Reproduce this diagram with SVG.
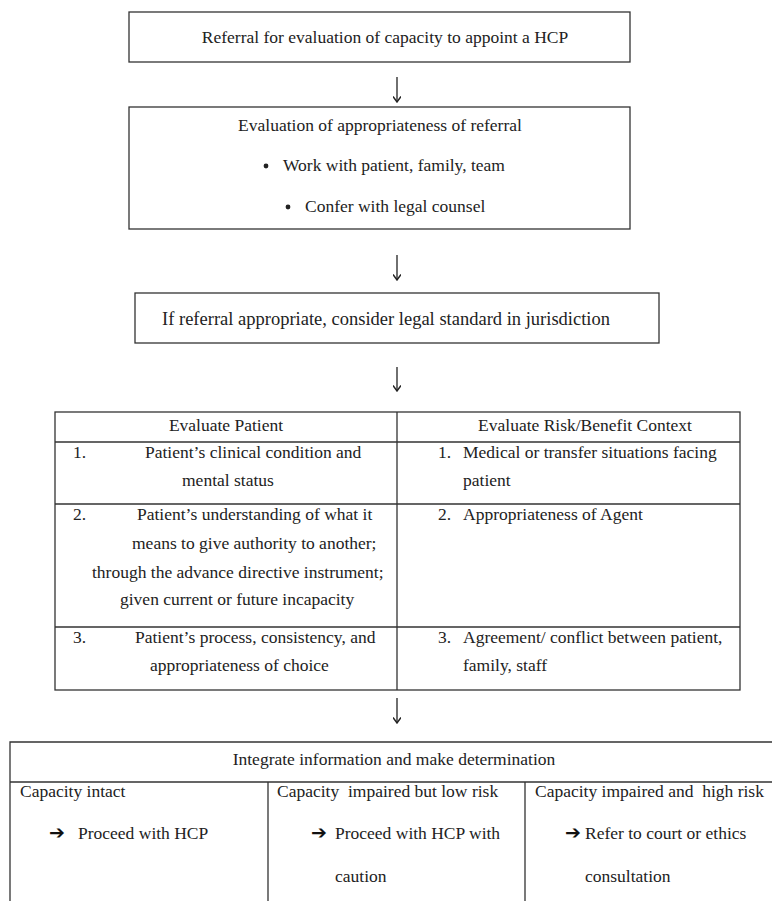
<svg xmlns="http://www.w3.org/2000/svg" width="772" height="901" viewBox="0 0 772 901">
<defs>
<style>
.box{fill:#fff;stroke:#333;stroke-width:1.3}
.ln{stroke:#333;stroke-width:1.3;fill:none}
text.t{font-family:'Liberation Serif','Times New Roman',serif;font-size:17.5px;fill:#222}
text.m{text-anchor:middle}
text.ar{font-family:'DejaVu Sans',sans-serif;font-size:19px;fill:#111}
.con{stroke:#333;stroke-width:1.4;fill:none}
</style>
<marker id="ah" viewBox="0 0 10 10" refX="9" refY="5" markerWidth="8" markerHeight="8" markerUnits="userSpaceOnUse" orient="auto">
<path d="M2,0 L9,5 L2,10" fill="none" stroke="#222" stroke-width="1.8"/>
</marker>
</defs>
<rect width="772" height="901" fill="#fff"/>

<g id="n1">
<rect class="box" x="129" y="12" width="501" height="50"/>
<text class="t m" x="385" y="43">Referral for evaluation of capacity to appoint a HCP</text>
</g>

<g id="n2">
<rect class="box" x="129" y="107" width="501" height="122"/>
<text class="t m" x="380" y="131">Evaluation of appropriateness of referral</text>
<circle cx="266" cy="166" r="2.4" fill="#222"/>
<text class="t" x="283" y="171">Work with patient, family, team</text>
<circle cx="288" cy="207" r="2.4" fill="#222"/>
<text class="t" x="305" y="212">Confer with legal counsel</text>
</g>

<g id="n3">
<rect class="box" x="135" y="293" width="524" height="50"/>
<text class="t m" x="386" y="325" style="font-size:18.5px">If referral appropriate, consider legal standard in jurisdiction</text>
</g>

<g id="n4">
<rect class="box" x="55" y="412" width="685" height="278"/>
<path class="ln" d="M397,412 V690 M55,442 H740 M55,504 H740 M55,627 H740"/>
<text class="t m" x="226" y="431">Evaluate Patient</text>
<text class="t m" x="585" y="431">Evaluate Risk/Benefit Context</text>
<text class="t" x="73" y="458">1.</text>
<text class="t" x="145" y="458">Patient’s clinical condition and</text>
<text class="t" x="182" y="486">mental status</text>
<text class="t" x="73" y="520">2.</text>
<text class="t" x="137" y="520">Patient’s understanding of what it</text>
<text class="t" x="132" y="549">means to give authority to another;</text>
<text class="t" x="92" y="578">through the advance directive instrument;</text>
<text class="t" x="120" y="605">given current or future incapacity</text>
<text class="t" x="73" y="643">3.</text>
<text class="t" x="135" y="643">Patient’s process, consistency, and</text>
<text class="t" x="150" y="671">appropriateness of choice</text>
<text class="t" x="438" y="458">1.</text>
<text class="t" x="463" y="458">Medical or transfer situations facing</text>
<text class="t" x="463" y="486">patient</text>
<text class="t" x="438" y="520">2.</text>
<text class="t" x="463" y="520">Appropriateness of Agent</text>
<text class="t" x="438" y="643">3.</text>
<text class="t" x="463" y="643">Agreement/ conflict between patient,</text>
<text class="t" x="463" y="671">family, staff</text>
</g>

<g id="n5">
<path class="ln" d="M10,901 V742 H772 M10,782 H772 M268,782 V901 M525,782 V901"/>
<text class="t m" x="394" y="765">Integrate information and make determination</text>
<text class="t" x="20" y="797">Capacity intact</text>
<text class="ar" x="49" y="839">➔</text>
<text class="t" x="78" y="839">Proceed with HCP</text>
<text class="t" x="277" y="797" xml:space="preserve">Capacity  impaired but low risk</text>
<text class="ar" x="311" y="839">➔</text>
<text class="t" x="335" y="839">Proceed with HCP with</text>
<text class="t" x="335" y="882">caution</text>
<text class="t" x="535" y="797" xml:space="preserve">Capacity impaired and  high risk</text>
<text class="ar" x="565" y="839">➔</text>
<text class="t" x="585" y="839">Refer to court or ethics</text>
<text class="t" x="585" y="882">consultation</text>
</g>

<g id="connectors">
<path class="con" d="M397,77 V102" marker-end="url(#ah)"/>
<path class="con" d="M397,255 V280" marker-end="url(#ah)"/>
<path class="con" d="M397,367 V391" marker-end="url(#ah)"/>
<path class="con" d="M397,698 V723" marker-end="url(#ah)"/>
</g>
</svg>
